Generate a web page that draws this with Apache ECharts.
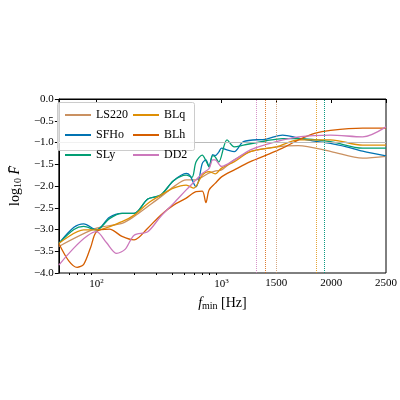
<!DOCTYPE html>
<html>
<head>
<meta charset="utf-8">
<script src="https://cdn.jsdelivr.net/npm/echarts@6/dist/echarts.min.js"></script>
<style>html,body{margin:0;padding:0;background:#fff}#chart{width:400px;height:400px}</style>
</head>
<body>
<div id="chart"></div>
<script>
// 频率点 (Hz) 与各模型的 log10 F
var names = ["LS220", "SFHo", "SLy", "BLq", "BLh", "DD2"];
var colors = ["#ca9161", "#0173b2", "#029e73", "#de8f05", "#d55e00", "#cc78bc"];

var fLS220 = [50, 100, 160, 200, 257, 326, 413, 522, 625, 702, 800, 900, 1000, 1117, 1263, 1500, 1700, 2000, 2287, 2500];
var yLS220 = [-3.39, -2.97, -2.86, -2.70, -2.47, -2.25, -2.02, -1.86, -1.86, -1.79, -1.70, -1.65, -1.63, -1.40, -1.21, -1.10, -1.07, -1.21, -1.36, -1.32];

var fSFHo = [50, 66, 79, 100, 127, 160, 200, 257, 326, 413, 522, 560, 625, 660, 702, 750, 795, 850, 889, 950, 1000, 1050, 1117, 1200, 1409, 1556, 1702, 1848, 1994, 2140, 2287, 2500];
var ySFHo = [-3.32, -2.95, -2.87, -3.01, -2.72, -2.63, -2.63, -2.30, -2.21, -1.88, -1.71, -1.76, -2.02, -1.85, -1.48, -1.40, -1.56, -1.28, -1.30, -1.22, -1.13, -1.17, -1.21, -0.98, -0.92, -0.83, -0.90, -0.97, -1.02, -1.10, -1.20, -1.31];

var fSLy = [50, 66, 79, 100, 127, 160, 200, 257, 326, 413, 522, 580, 625, 700, 760, 795, 850, 889, 950, 1050, 1117, 1200, 1409, 1556, 1702, 1994, 2287, 2500];
var ySLy = [-3.32, -3.00, -2.93, -3.01, -2.75, -2.63, -2.63, -2.30, -2.21, -1.88, -1.75, -1.80, -1.45, -1.29, -1.45, -1.56, -1.30, -1.33, -1.45, -0.94, -1.10, -1.06, -0.96, -0.91, -0.91, -0.98, -1.13, -1.13];

var fBLq = [50, 79, 100, 160, 200, 257, 326, 413, 522, 600, 702, 795, 889, 1000, 1117, 1263, 1500, 1702, 1994, 2287, 2500];
var yBLq = [-3.32, -3.01, -3.01, -2.82, -2.67, -2.40, -2.21, -2.05, -1.98, -2.05, -1.75, -1.67, -1.72, -1.59, -1.44, -1.21, -1.10, -0.94, -0.94, -1.06, -1.06];

var fBLh = [50, 60, 70, 79, 90, 100, 127, 160, 200, 257, 326, 413, 522, 625, 702, 750, 795, 889, 1000, 1117, 1263, 1409, 1556, 1702, 1848, 1994, 2287, 2500];
var yBLh = [-3.32, -3.72, -3.87, -3.80, -3.40, -3.05, -2.99, -3.16, -3.24, -2.97, -2.67, -2.44, -2.28, -2.13, -2.12, -2.38, -2.09, -1.94, -1.79, -1.63, -1.44, -1.29, -1.13, -0.94, -0.79, -0.72, -0.67, -0.67];

var fDD2 = [50, 100, 120, 145, 170, 200, 257, 326, 413, 522, 625, 702, 795, 850, 889, 1000, 1117, 1263, 1500, 1702, 1994, 2287, 2500];
var yDD2 = [-3.82, -3.05, -3.30, -3.55, -3.45, -3.13, -3.05, -2.70, -2.40, -2.09, -1.86, -1.71, -1.60, -1.40, -1.40, -1.55, -1.40, -1.17, -0.98, -0.87, -0.83, -0.87, -0.64];

// 各模型的竖直虚线位置 (Hz)
var vlines = [1500, 1936, 1936, 1871, 1401, 1322];

var freqs = [fLS220, fSFHo, fSLy, fBLq, fBLh, fDD2];
var vals = [yLS220, ySFHo, ySLy, yBLq, yBLh, yDD2];

// 1000 Hz 以下对数，以上线性
function u(f) {
  return f <= 1000 ? Math.log10(f) : 3 + (f - 1000) * 0.000877;
}
var majorF = [100, 1000, 1500, 2000, 2500];
var majorLbl = ["10{s|2}", "10{s|3}", "1500", "2000", "2500"];
var minorF = [60, 70, 80, 90, 200, 300, 400, 500, 600, 700, 800, 900];

var font = "Liberation Serif";
var series = [];
for (let i = 0; i < names.length; i++) {
  let d = [];
  for (let j = 0; j < freqs[i].length; j++) d.push([u(freqs[i][j]), vals[i][j]]);
  let s = {
    name: names[i], type: "line", data: d, smooth: 0.3, symbol: "none",
    lineStyle: { color: colors[i], width: 1.3 }, itemStyle: { color: colors[i] },
    markLine: {
      silent: true, symbol: "none", label: { show: false },
      lineStyle: { color: colors[i], type: "dotted", width: 1, opacity: 0.8 },
      data: [{ xAxis: u(vlines[i]) }]
    }
  };
  if (i === 0) {
    s.markLine.data.push({ yAxis: -1, lineStyle: { color: "#bbbbbb", type: "solid", width: 1, opacity: 1 } });
  }
  series.push(s);
}

var chart = echarts.init(document.getElementById("chart"));
var legendCommon = {
  orient: "vertical", itemWidth: 26, itemHeight: 2, itemGap: 8, icon: "rect",
  textStyle: { fontFamily: font, fontSize: 12, color: "#000" }
};
chart.setOption({
  animation: false,
  grid: { left: 52, right: 10, top: 99, bottom: 127, show: true, borderColor: "#000", borderWidth: 1 },
  graphic: [{
    type: "rect", left: 57, top: 102, shape: { width: 137, height: 48, r: 2 },
    style: { fill: "rgba(255,255,255,0.8)", stroke: "#ccc", lineWidth: 1 }, z: 10
  }],
  legend: [
    Object.assign({ left: 60, top: 104, data: names.slice(0, 3), z: 20 }, legendCommon),
    Object.assign({ left: 128, top: 104, data: names.slice(3), z: 20 }, legendCommon)
  ],
  xAxis: [{
    type: "value", min: u(50), max: u(2500),
    splitLine: { show: false },
    axisLine: { lineStyle: { color: "#000" } },
    axisTick: { customValues: majorF.map(u), length: 4, lineStyle: { color: "#000" } },
    axisLabel: {
      customValues: majorF.map(u), fontFamily: font, fontSize: 11, color: "#000", margin: 5,
      formatter: function (v) {
        let k = 0, best = 1e9;
        majorF.forEach(function (f, i) { let dd = Math.abs(u(f) - v); if (dd < best) { best = dd; k = i; } });
        return majorLbl[k];
      },
      rich: { s: { fontSize: 7, verticalAlign: "top", padding: [0, 0, 6, 0], fontFamily: font } }
    },
    name: "{i|f}{s|min} [Hz]", nameLocation: "middle", nameGap: 22,
    nameTextStyle: {
      fontFamily: font, fontSize: 14, color: "#000",
      rich: { i: { fontStyle: "italic", fontFamily: font, fontSize: 14 }, s: { fontFamily: font, fontSize: 10, padding: [6, 0, 0, 0] } }
    }
  }, {
    type: "value", min: u(50), max: u(2500), position: "bottom",
    splitLine: { show: false }, axisLine: { show: false },
    axisTick: { customValues: minorF.map(u), length: 2, lineStyle: { color: "#000" } },
    axisLabel: { show: false }
  }],
  yAxis: {
    type: "value", min: -4, max: 0, interval: 0.5,
    splitLine: { show: false },
    axisLine: { show: true, lineStyle: { color: "#000" } },
    axisTick: { show: true, length: 4, lineStyle: { color: "#000" } },
    axisLabel: {
      fontFamily: font, fontSize: 11, color: "#000", margin: 5,
      formatter: function (v) { return (v < 0 ? "\u2212" : "") + Math.abs(v).toFixed(1); }
    },
    name: "log{s|10} {i|F\u0304}", nameLocation: "middle", nameGap: 32, nameRotate: 90,
    nameTextStyle: {
      fontFamily: font, fontSize: 14, color: "#000",
      rich: { s: { fontFamily: font, fontSize: 10, padding: [6, 0, 0, 0] }, i: { fontStyle: "italic", fontFamily: font, fontSize: 14 } }
    }
  },
  series: series
});
</script>
</body>
</html>
